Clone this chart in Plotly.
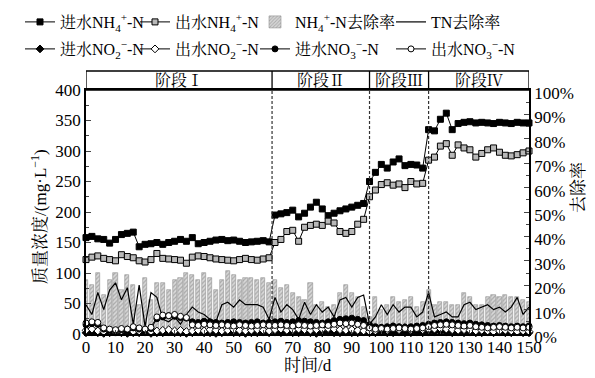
import plotly.graph_objects as go

days = [0, 2, 4, 6, 8, 10, 12, 14, 16, 18, 20, 22, 24, 26, 28, 30, 32, 34, 36, 38,
        40, 42, 44, 46, 48, 50, 52, 54, 56, 58, 60, 62, 64, 66, 68, 70, 72, 74, 76, 78,
        80, 82, 84, 86, 88, 90, 92, 94, 96, 98, 100, 102, 104, 106, 108, 110, 112, 114, 116, 118,
        120, 122, 124, 126, 128, 130, 132, 134, 136, 138, 140, 142, 144, 146, 148, 150]

inf_nh4 = [158, 160, 156, 155, 149, 155, 163, 165, 167, 143, 147, 148, 150, 147, 150, 152,
           155, 152, 158, 148, 150, 152, 154, 155, 153, 154, 152, 150, 151, 152, 153, 151,
           195, 197, 199, 203, 192, 198, 208, 216, 205, 194, 198, 202, 205, 208, 211, 214, 250,
           265, 278, 272, 282, 287, 276, 278, 277, 272, 335,
           333, 352, 362, 335, 345, 347, 348, 346, 347, 346, 345, 347, 346, 345, 347, 346, 346]
eff_nh4 = [122, 126, 128, 124, 122, 120, 130, 127, 125, 120, 118, 122, 132, 124, 123, 122,
           121, 116, 126, 128, 127, 125, 123, 122, 121, 120, 122, 124, 122, 121, 123, 125,
           150, 155, 168, 170, 152, 175, 178, 180, 178, 185, 182, 168, 165, 168, 180, 188, 225,
           236, 245, 248, 244, 246, 240, 250, 246, 247, 285,
           290, 308, 312, 293, 310, 305, 302, 290, 296, 302, 305, 298, 293, 292, 294, 297, 300]
nh4_rate = [22, 20, 25, 16, 22, 25, 18, 24, 20, 12, 23, 14, 21, 21, 18, 22,
            23, 25, 24, 22, 25, 23, 18, 22, 26, 24, 22, 23, 23, 22, 23, 21,
            22, 19, 20, 17, 15, 14, 21, 12, 13, 11, 12, 17, 20, 17, 15, 11, 7,
            15, 10, 12, 15, 13, 14, 15, 11, 13, 18,
            12, 13, 13, 12, 12, 17, 15, 12, 12, 15, 16, 15, 16, 15, 15, 14, 13]
tn_rate = [12, 8, 17, 10, 18, 21, 14, 19, 4, 20, 3, 17, 15, 6, 5, 7,
           4, 8, 11, 9, 8, 6, 5, 12, 13, 11, 14, 12, 12, 12, 11, 6,
           15, 9, 12, 10, 6, 13, 8, 12, 9, 11, 7, 14, 15, 11, 15, 16, 4,
           7, 12, 8, 12, 9, 11, 11, 7, 9, 17,
           7, 8, 9, 7, 7, 12, 13, 10, 11, 12, 10, 11, 9, 11, 15, 8, 11]
inf_no2 = [2, 3, 2, 1, 2, 3, 2, 1, 2, 2, 3, 1, 2, 2, 3, 2,
           2, 1, 2, 3, 2, 2, 1, 2, 3, 2, 2, 1, 2, 2, 3, 2,
           3, 2, 3, 2, 2, 3, 2, 1, 2, 3, 2, 2, 3, 2, 2, 3, 2,
           2, 3, 2, 2, 3, 2, 2, 3, 2, 3,
           3, 4, 3, 2, 3, 2, 3, 2, 2, 3, 2, 3, 2, 2, 3, 2, 2]
eff_no2 = [6, 8, 5, 4, 6, 3, 5, 7, 4, 5, 6, 4, 5, 6, 7, 5,
           6, 4, 5, 6, 5, 7, 6, 5, 6, 7, 6, 5, 6, 7, 6, 5,
           7, 8, 6, 7, 8, 7, 6, 7, 8, 9, 8, 7, 6, 7, 6, 5, 4,
           5, 10, 6, 12, 7, 11, 6, 10, 7, 8,
           8, 9, 8, 7, 6, 7, 6, 5, 6, 5, 4, 5, 6, 5, 4, 5, 4]
inf_no3 = [15, 17, 16, 8, 6, 5, 7, 6, 10, 8, 6, 9, 25, 28, 30, 29,
           27, 26, 20, 19, 21, 20, 19, 18, 19, 20, 19, 18, 19, 20, 18, 19,
           20, 21, 19, 20, 22, 21, 20, 19, 18, 20, 22, 24, 25, 26, 24, 22, 15,
           12, 11, 12, 13, 12, 11, 12, 13, 14, 16,
           18, 19, 20, 19, 18, 17, 18, 16, 15, 14, 13, 14, 13, 12, 13, 12, 13]
eff_no3 = [18, 20, 19, 10, 8, 7, 9, 8, 12, 10, 8, 11, 28, 31, 30, 32,
           29, 27, 15, 14, 16, 15, 14, 15, 14, 13, 15, 14, 13, 14, 15, 14,
           14, 15, 14, 13, 15, 14, 13, 14, 15, 14, 16, 18, 17, 18, 16, 14, 10,
           8, 9, 8, 9, 10, 9, 8, 9, 10, 12,
           14, 15, 16, 15, 14, 13, 14, 12, 11, 10, 11, 12, 11, 10, 11, 10, 11]

stage_bounds = [63, 96, 116]
stage_labels = ["阶段Ⅰ", "阶段Ⅱ", "阶段Ⅲ", "阶段Ⅳ"]
stage_centers = [31.5, 79.5, 106, 133]

FONT = "Liberation Serif, Noto Serif CJK SC, Noto Sans CJK SC, serif"

# plot area in pixels
L, R, T, B = 78, 521, 82, 326
W, H = R - L, B - T


def px_x(p):
    return (p - L) / W


def px_y(p):
    return (B - p) / H


fig = go.Figure()


def conc(name, y, symbol, fill, legend):
    return go.Scatter(
        x=days, y=y, name=name, yaxis="y2", mode="lines+markers",
        line=dict(color="black", width=1),
        marker=dict(symbol=symbol, size=6, color=fill, line=dict(color="black", width=1)),
        cliponaxis=False, legend=legend,
    )


fig.add_trace(conc("进水NH<sub>4</sub><sup>+</sup>-N", inf_nh4, "square", "black", "legend"))
fig.add_trace(conc("出水NH<sub>4</sub><sup>+</sup>-N", eff_nh4, "square", "#b8b8b8", "legend2"))
fig.add_trace(go.Bar(
    x=days, y=nh4_rate, name="NH<sub>4</sub><sup>+</sup>-N去除率", yaxis="y", width=1.4,
    legend="legend3",
    marker=dict(color="#d8d8d8", line=dict(color="#909090", width=0.6),
                pattern=dict(shape="/", fgcolor="#7a7a7a", bgcolor="#d8d8d8", size=3, solidity=0.4)),
))
fig.add_trace(go.Scatter(x=days, y=tn_rate, name="TN去除率", yaxis="y", mode="lines",
                         legend="legend4", line=dict(color="black", width=1.2)))
fig.add_trace(conc("进水NO<sub>2</sub><sup>−</sup>-N", inf_no2, "diamond", "black", "legend5"))
fig.add_trace(conc("出水NO<sub>2</sub><sup>−</sup>-N", eff_no2, "diamond", "white", "legend6"))
fig.add_trace(conc("进水NO<sub>3</sub><sup>−</sup>-N", inf_no3, "circle", "black", "legend7"))
fig.add_trace(conc("出水NO<sub>3</sub><sup>−</sup>-N", eff_no3, "circle", "white", "legend8"))

hdr = 1 + 19 / H
shapes = [dict(type="rect", xref="x", yref="paper", x0=0, x1=150, y0=1, y1=hdr,
               line=dict(color="black", width=1.3))]
for b in stage_bounds:
    shapes.append(dict(type="line", xref="x", yref="paper", x0=b, x1=b, y0=1, y1=hdr,
                       line=dict(color="black", width=1.3)))
    shapes.append(dict(type="line", xref="x", yref="paper", x0=b, x1=b, y0=0, y1=1,
                       line=dict(color="#333", width=1.2, dash="3px,2px")))

annotations = []
for c, t in zip(stage_centers, stage_labels):
    annotations.append(dict(x=c, y=(1 + hdr) / 2, xref="x", yref="paper", text=t,
                            showarrow=False, font=dict(size=16), yanchor="middle"))
annotations.append(dict(x=px_x(18), y=0.48, xref="paper", yref="paper",
                        text="质量浓度/(mg·L<sup>−1</sup>)", textangle=-90, showarrow=False,
                        font=dict(size=17)))
annotations.append(dict(x=px_x(582), y=0.6, xref="paper", yref="paper", text="去除率",
                        textangle=-90, showarrow=False, font=dict(size=17)))
annotations.append(dict(x=0.5, y=px_y(369), xref="paper", yref="paper", text="时间/d",
                        showarrow=False, font=dict(size=17)))


def leg(xpx, ypx):
    return dict(orientation="v", x=px_x(xpx), y=px_y(ypx), xanchor="left", yanchor="middle",
                font=dict(size=16), bgcolor="rgba(0,0,0,0)", itemwidth=30)


cols = [12, 127, 247, 383]
rows = [14, 41]

fig.update_layout(
    width=595, height=378,
    margin=dict(l=L, r=595 - R, t=T, b=378 - B, autoexpand=False),
    paper_bgcolor="white", plot_bgcolor="white",
    font=dict(family=FONT, size=17, color="black"),
    showlegend=True,
    legend=leg(cols[0], rows[0]), legend2=leg(cols[1], rows[0]),
    legend3=leg(cols[2], rows[0]), legend4=leg(cols[3], rows[0]),
    legend5=leg(cols[0], rows[1]), legend6=leg(cols[1], rows[1]),
    legend7=leg(cols[2], rows[1]), legend8=leg(cols[3], rows[1]),
    bargap=0,
    xaxis=dict(range=[0, 150], dtick=10, tick0=0, ticks="inside", ticklen=4,
               showline=True, linecolor="black", linewidth=1.5, mirror=True,
               showgrid=False, zeroline=False, tickangle=0, tickfont=dict(size=17),
               ticklabelstandoff=-3),
    yaxis=dict(range=[0, 100], dtick=10, side="right", ticks="inside", ticklen=5,
               ticksuffix="%", showline=True, linecolor="black", linewidth=1.5,
               showgrid=False, zeroline=False, tickfont=dict(size=17), ticklabelshift=3,
               minor=dict(dtick=5, ticks="inside", ticklen=3)),
    yaxis2=dict(range=[0, 400], dtick=50, side="left", overlaying="y", anchor="x",
                ticks="inside", ticklen=5, showline=True, linecolor="black", linewidth=1.5,
                showgrid=False, zeroline=False, tickfont=dict(size=17),
                minor=dict(dtick=25, ticks="inside", ticklen=3)),
    shapes=shapes, annotations=annotations,
)

fig.write_html("out.html")
